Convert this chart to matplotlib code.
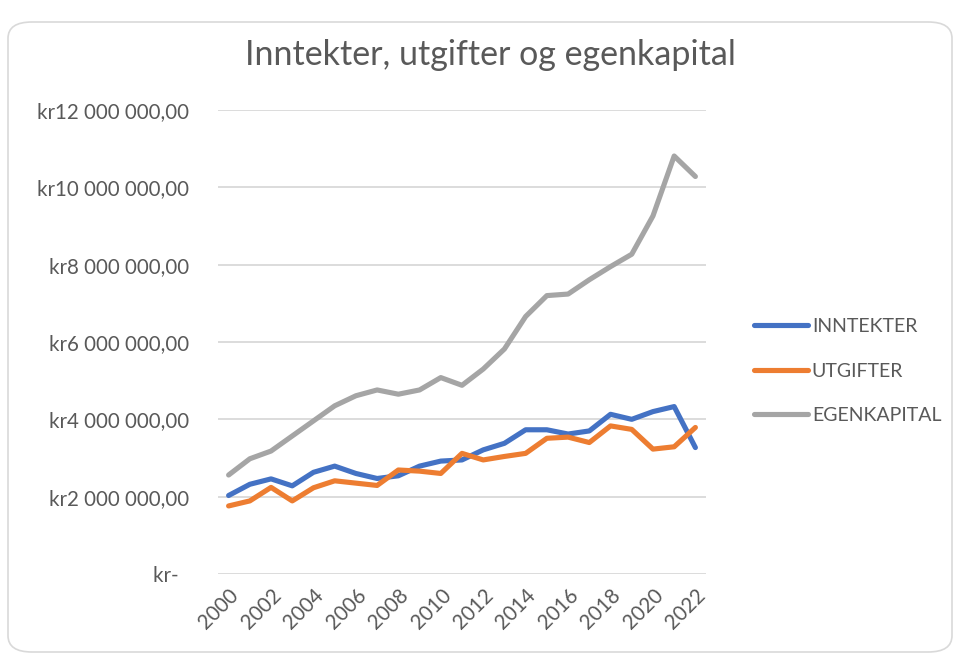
import matplotlib
matplotlib.use("Agg")
import matplotlib.pyplot as plt
from matplotlib.patches import FancyBboxPatch
from matplotlib.ticker import FuncFormatter, MultipleLocator

plt.rcParams["font.family"] = ["Lato", "DejaVu Sans"]

# values (NOK)
years = list(range(2000, 2023))
inntekter = [2.03, 2.32, 2.46, 2.28, 2.63, 2.79, 2.60, 2.47, 2.54, 2.79, 2.92, 2.95,
             3.21, 3.38, 3.73, 3.73, 3.62, 3.70, 4.13, 4.00, 4.20, 4.33, 3.27]
utgifter = [1.76, 1.89, 2.24, 1.89, 2.23, 2.41, 2.35, 2.29, 2.69, 2.66, 2.60, 3.12,
            2.95, 3.04, 3.12, 3.51, 3.54, 3.40, 3.83, 3.74, 3.23, 3.29, 3.79]
egenkapital = [2.56, 2.98, 3.18, 3.57, 3.96, 4.35, 4.61, 4.76, 4.65, 4.76, 5.08, 4.88,
               5.30, 5.82, 6.66, 7.20, 7.24, 7.61, 7.95, 8.27, 9.26, 10.81, 10.28]
series_names = ["INNTEKTER", "UTGIFTER", "EGENKAPITAL"]
series_colors = ["#4472C4", "#ED7D31", "#A5A5A5"]

TEXT = "#595959"


def kr_format(v, pos):
    if abs(v) < 1:
        return "kr-  "
    s = f"{v:,.2f}".replace(",", " ").replace(".", ",")
    return "kr" + s


fig = plt.figure(figsize=(9.57, 6.54), dpi=100)

# chart frame
frame = FancyBboxPatch((8 / 957, 1 - 652 / 654), 944 / 957, 630 / 654,
                       boxstyle="round,pad=0,rounding_size=0.025",
                       transform=fig.transFigure, facecolor="white",
                       edgecolor="#D9D9D9", linewidth=1.2, zorder=-5)
fig.patches.append(frame)

ax = fig.add_axes([218 / 957, 1 - 574 / 654, 488 / 957, 464 / 654])
ax.set_facecolor("none")

for name, vals, col in zip(series_names, [inntekter, utgifter, egenkapital], series_colors):
    ax.plot(years, [v * 1e6 for v in vals], color=col, linewidth=3.7,
            solid_capstyle="round", solid_joinstyle="round", label=name)

ax.set_xlim(1999.5, 2022.5)
ax.set_ylim(0, 12e6)
ax.yaxis.set_major_locator(MultipleLocator(2e6))
ax.yaxis.set_major_formatter(FuncFormatter(kr_format))
ax.set_xticks(years[::2])
ax.set_xticklabels([str(y) for y in years[::2]], rotation=45, ha="right",
                   va="top", rotation_mode="anchor")
ax.grid(axis="y", color="#D9D9D9", linewidth=1.3)
ax.set_axisbelow(True)
for sp in ax.spines.values():
    sp.set_visible(False)
ax.tick_params(axis="both", length=0, colors=TEXT, labelsize=14.8)
ax.tick_params(axis="y", pad=21)
ax.tick_params(axis="x", pad=8)

fig.text(490 / 957, 1 - 55 / 654, "Inntekter, utgifter og egenkapital",
         ha="center", va="center", fontsize=24.5, color=TEXT)

ax.legend(loc="center left", bbox_to_anchor=(736 / 957, 1 - 371 / 654),
          bbox_transform=fig.transFigure, frameon=False, fontsize=14,
          labelcolor=TEXT, handlelength=2.8, handletextpad=0.2,
          labelspacing=1.4)

fig.savefig("out.png", dpi=100)
